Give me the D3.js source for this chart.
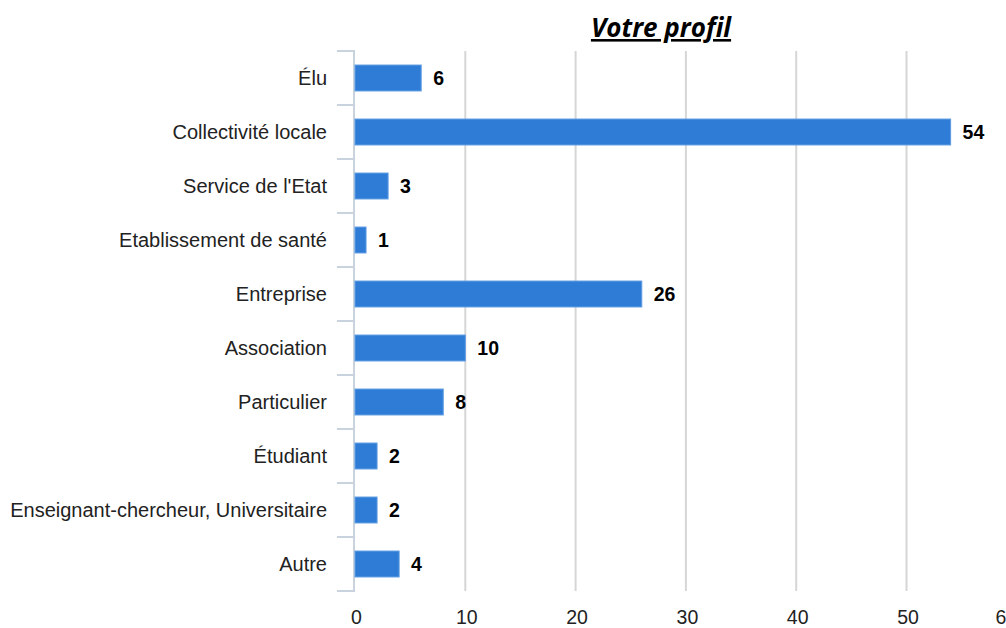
<!DOCTYPE html>
<html>
<head>
<meta charset="utf-8">
<script src="https://cdn.jsdelivr.net/npm/d3@7"></script>
<style>
  body { margin: 0; background: #fff; }
  svg { display: block; }
</style>
</head>
<body>
<script>
"use strict";
(function(){
  // data
  const categories = ["Élu", "Collectivité locale", "Service de l'Etat", "Etablissement de santé",
    "Entreprise", "Association", "Particulier", "Étudiant",
    "Enseignant-chercheur, Universitaire", "Autre"];
  const values = [6, 54, 3, 1, 26, 10, 8, 2, 2, 4];
  const xTicks = [0, 10, 20, 30, 40, 50, 60];

  const measurements = {
    width: 1006,
    height: 628,
    left: 355,
    top: 51,
    bottom: 591
  }
  const font = "Liberation Sans, Arial, sans-serif"

  const svg = d3.select("body").append("svg")
    .attr("width", measurements.width)
    .attr("height", measurements.height)

  // x scale: 0 at 355, 50 at ~906
  const scaleX = d3.scaleLinear()
    .domain([0, 60])
    .range([measurements.left, measurements.left + 60 * 11.03])

  const scaleY = d3.scaleBand()
    .domain(categories)
    .range([measurements.top, measurements.bottom])
    .paddingInner(0.52)
    .paddingOuter(0.26)

  // gridlines
  svg.append("g")
    .selectAll("line")
    .data(xTicks.filter(d => d > 0))
    .enter()
    .append("line")
      .attr("x1", d => scaleX(d))
      .attr("x2", d => scaleX(d))
      .attr("y1", measurements.top)
      .attr("y2", measurements.bottom)
      .attr("stroke", "#d6d6d6")
      .attr("stroke-width", 2)

  // x tick labels (the last one is pulled inside the page, like the original)
  const xAxis = d3.axisBottom(scaleX)
    .tickValues(xTicks)
    .tickSize(0)
    .tickPadding(0)
    .tickFormat(d3.format("d"))
  const gx = svg.append("g")
    .call(xAxis)
  gx.select(".domain").remove()
  gx.selectAll("text")
    .attr("y", 624)
    .attr("dy", 0)
    .attr("dx", d => d === 60 ? -11 : 1)
    .attr("font-family", font)
    .attr("font-size", 19.5)
    .attr("fill", "#222")

  // y axis line and band separators
  const bandStep = scaleY.step()
  const bounds = d3.range(categories.length + 1).map(i => measurements.top + i * bandStep)
  svg.append("line")
    .attr("x1", measurements.left - 1)
    .attr("x2", measurements.left - 1)
    .attr("y1", measurements.top)
    .attr("y2", measurements.bottom)
    .attr("stroke", "#c9d3de")
    .attr("stroke-width", 2)
  svg.append("g")
    .selectAll("line")
    .data(bounds)
    .enter()
    .append("line")
      .attr("x1", 337)
      .attr("x2", measurements.left)
      .attr("y1", d => d)
      .attr("y2", d => d)
      .attr("stroke", "#c9d3de")
      .attr("stroke-width", 2)

  // category labels
  svg.append("g")
    .selectAll("text")
    .data(categories)
    .enter()
    .append("text")
      .attr("x", 327)
      .attr("y", d => scaleY(d) + scaleY.bandwidth() / 2)
      .attr("dy", "0.36em")
      .attr("text-anchor", "end")
      .attr("font-family", font)
      .attr("font-size", 20)
      .attr("fill", "#222")
      .text(d => d)

  // bars
  svg.append("g")
    .selectAll("rect")
    .data(values)
    .enter()
    .append("rect")
      .attr("x", scaleX(0))
      .attr("y", (d, i) => scaleY(categories[i]))
      .attr("width", d => scaleX(d) - scaleX(0))
      .attr("height", scaleY.bandwidth())
      .attr("fill", "#2e7cd6")
      .attr("stroke", "#5d9be3")
      .attr("stroke-width", 1)

  // value labels
  svg.append("g")
    .selectAll("text")
    .data(values)
    .enter()
    .append("text")
      .attr("x", d => scaleX(d) + 12)
      .attr("y", (d, i) => scaleY(categories[i]) + scaleY.bandwidth() / 2)
      .attr("dy", "0.36em")
      .attr("font-family", font)
      .attr("font-size", 19.5)
      .attr("font-weight", "bold")
      .attr("fill", "#000")
      .text(d => d)

  // title
  svg.append("text")
    .attr("x", 661)
    .attr("y", 37)
    .attr("text-anchor", "middle")
    .attr("font-family", "Open Sans, sans-serif")
    .attr("font-size", 26)
    .attr("font-weight", "bold")
    .attr("font-style", "italic")
    .attr("text-decoration", "underline")
    .attr("fill", "#000")
    .text("Votre profil")
})()
</script>
</body>
</html>
